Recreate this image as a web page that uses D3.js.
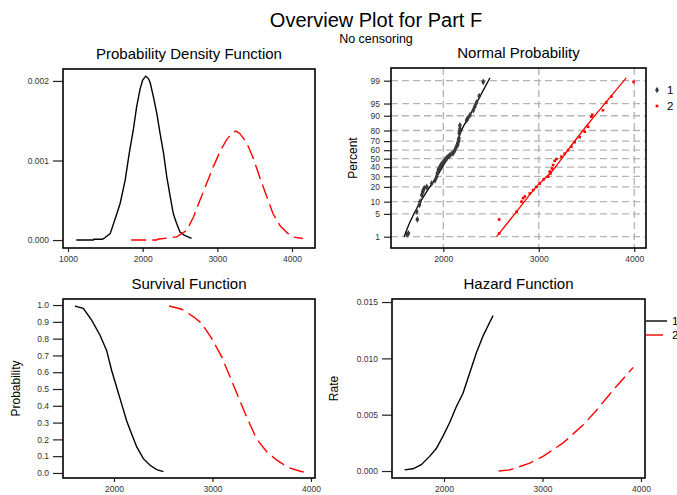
<!DOCTYPE html>
<html>
<head>
<meta charset="utf-8">
<script src="https://cdn.jsdelivr.net/npm/d3@7"></script>
<style>
body{margin:0;background:#fff}
text{font-family:"Liberation Sans",Arial,sans-serif}
</style>
</head>
<body>
<div id="chart"></div>
<script>
const width = 677
const height = 495

// probability density
const pdfX1 = [1110,1340,1345,1460,1480,1565,1654,1698,1765,1820,1877,1920,1966,2000,2041,2077,2100,2144,2190,2233,2280,2322,2370,2411,2450,2500,2560,2655]
const pdfY1 = [0,0,0.00001,0.00001,0.00002,0.00008,0.00033,0.00046,0.00075,0.00109,0.0014,0.00168,0.0019,0.00201,0.00206,0.00203,0.00198,0.0018,0.00159,0.00134,0.00109,0.0008,0.00054,0.00033,0.00022,0.0001,0.00006,0.00002]
const pdfX2 = [1846,2188,2200,2455,2589,2680,2767,2860,2945,3040,3123,3200,3248,3300,3390,3480,3568,3660,3746,3840,3924,4000,4146]
const pdfY2 = [0,0,0.00001,0.00004,0.00012,0.00029,0.0005,0.00072,0.00092,0.00112,0.00126,0.00135,0.00137,0.00134,0.00123,0.00103,0.00079,0.00055,0.00033,0.00018,0.0001,0.00004,0.00002]

// normal probability: points and fitted lines (percent)
const probX1 = [1620,1634,1728,1721,1749,1756,1774,1784,1790,1800,1826,1878,1913,1930,1937,1948,1955,1965,1975,1983,2000,2017,2030,2042,2060,2070,2090,2105,2122,2139,2150,2157,2160,2164,2167,2170,2174,2174,2244,2255,2279,2314,2330,2348,2376,2418]
const probP1 = [1.2,1.3,3.5,5.8,8.4,10,14,16,17.5,19,20,23,26,29.5,33,36.7,38,40.5,42,43.6,46,48.4,50,51.6,53,54.4,56,57,60,64,66,69,71,73,77.5,79,81.6,84,87.5,88.5,90.3,92.6,94,95.3,96.9,98.9]
const probX2 = [2585,2585,2767,2819,2836,2854,2906,2941,2976,3010,3052,3098,3122,3115,3139,3150,3167,3185,3237,3272,3306,3341,3376,3429,3481,3516,3551,3560,3672,3707,3760,3993]
const probP2 = [1.3,3.5,5.7,10,12,13,15,17.5,20,23,27,29.5,33,35,38.5,42.5,47.6,49.6,52.4,56,60,64,69,74,79,83,89.5,90.5,92.6,95.3,96.8,98.9]
const fitX1 = [1589,1652,1721,1826,1930,2035,2122,2192,2279,2383,2488]
const fitP1 = [1,3,6.9,16.3,29.5,48.4,62,80.4,90.3,96.8,99.2]
const fitX2 = [2558,2767,2976,3150,3306,3533,3707,3916]
const fitP2 = [1,5.7,20.2,36.8,60.3,86.3,95.5,99.2]
const pctTicks = [1,5,10,20,30,40,50,60,70,80,90,95,99]

// survival
const survX1 = [1603,1688,1773,1858,1925,1976,2027,2078,2129,2180,2231,2298,2366,2434,2502]
const survY1 = [0.994,0.98,0.91,0.82,0.73,0.61,0.51,0.41,0.31,0.23,0.155,0.085,0.046,0.02,0.008]
const survX2 = [2559,2688,2807,2892,2993,3095,3180,3264,3349,3451,3553,3654,3773,3892,3926]
const survY2 = [0.994,0.975,0.93,0.89,0.8,0.69,0.57,0.45,0.33,0.2,0.125,0.076,0.032,0.01,0.006]

// hazard
const hazX1 = [1600,1685,1769,1854,1922,1990,2058,2125,2193,2261,2329,2397,2498]
const hazY1 = [0.0001,0.0002,0.00056,0.0013,0.002,0.0031,0.0043,0.0057,0.0069,0.0087,0.0105,0.012,0.0138]
const hazX2 = [2556,2668,2871,3007,3210,3414,3549,3719,3922]
const hazY2 = [0,0.0001,0.0007,0.0013,0.0025,0.0041,0.0054,0.0072,0.0092]

const groups = ["1","2"]
const colors = ["#000","#ff0000"]
const dashes = [null,"15,6"]

// inverse normal cdf (Acklam)
function probit(p){
const a=[-39.69683028665376,220.9460984245205,-275.9285104469687,138.3577518672690,-30.66479806614716,2.506628277459239]
const b=[-54.47609879822406,161.5858368580409,-155.6989798598866,66.80131188771972,-13.28068155288572]
const c=[-0.007784894002430293,-0.3223964580411365,-2.400758277161838,-2.549732539343734,4.374664141464968,2.938163982698783]
const d=[0.007784695709041462,0.3224671290700398,2.445134137142996,3.754408661907416]
const pl=0.02425
if(p<pl){const q=Math.sqrt(-2*Math.log(p));return (((((c[0]*q+c[1])*q+c[2])*q+c[3])*q+c[4])*q+c[5])/((((d[0]*q+d[1])*q+d[2])*q+d[3])*q+1)}
if(p>1-pl){const q=Math.sqrt(-2*Math.log(1-p));return -(((((c[0]*q+c[1])*q+c[2])*q+c[3])*q+c[4])*q+c[5])/((((d[0]*q+d[1])*q+d[2])*q+d[3])*q+1)}
const q=p-0.5,r=q*q
return (((((a[0]*r+a[1])*r+a[2])*r+a[3])*r+a[4])*r+a[5])*q/(((((b[0]*r+b[1])*r+b[2])*r+b[3])*r+b[4])*r+1)
}

const svg = d3.select("#chart")
.append("svg")
.attr("width",width)
.attr("height",height)

svg.append("text")
.attr("x",376)
.attr("y",27)
.attr("text-anchor","middle")
.attr("font-size",20)
.text("Overview Plot for Part F")

svg.append("text")
.attr("x",376)
.attr("y",43)
.attr("text-anchor","middle")
.attr("font-size",12.5)
.text("No censoring")

function panel(box,title,xDomain,yScaleDomain,opts){
const x = d3.scaleLinear().domain(xDomain).range([box.x0,box.x1])
const y = d3.scaleLinear().domain(yScaleDomain).range([box.y1,box.y0])
const g = svg.append("g")

g.append("text")
.attr("x",(box.x0+box.x1)/2)
.attr("y",box.y0-10)
.attr("text-anchor","middle")
.attr("font-size",15)
.text(title)

const xa = g.append("g")
.attr("transform",`translate(0,${box.y1})`)
.call(d3.axisBottom(x).tickValues(opts.xTicks).tickSize(4).tickPadding(4).tickFormat(d3.format("d")))
const ya = g.append("g")
.attr("transform",`translate(${box.x0},0)`)
.call(d3.axisLeft(y).tickValues(opts.yTicks).tickSize(opts.yTickSize).tickPadding(4).tickFormat(opts.yFormat))
;[xa,ya].forEach(a=>{
a.select(".domain").remove()
a.selectAll("line").attr("stroke","#222").attr("stroke-width",1.2)
a.selectAll("text").attr("font-size",8.5).attr("fill","#333").attr("font-family","Liberation Sans, Arial, sans-serif")
})

if(opts.yLabel){
g.append("text")
.attr("transform",`translate(${opts.yLabelX},${(box.y0+box.y1)/2}) rotate(-90)`)
.attr("text-anchor","middle")
.attr("font-size",12)
.text(opts.yLabel)
}
return {x,y,g}
}

function frame(box){
svg.append("rect")
.attr("x",box.x0)
.attr("y",box.y0)
.attr("width",box.x1-box.x0)
.attr("height",box.y1-box.y0)
.attr("fill","none")
.attr("stroke","#000")
.attr("stroke-width",1.6)
}

function curve(p,xs,ys,i){
p.g.append("path")
.datum(xs.map((v,k)=>[v,ys[k]]))
.attr("fill","none")
.attr("stroke",colors[i])
.attr("stroke-width",1.4)
.attr("stroke-dasharray",dashes[i])
.attr("d",d3.line().x(d=>p.x(d[0])).y(d=>p.y(d[1])))
}

// Probability Density Function
const box1 = {x0:63,y0:69,x1:315,y1:248}
const p1 = panel(box1,"Probability Density Function",[933,4308],[-0.0001,0.00215],
{xTicks:[1000,2000,3000,4000],yTicks:[0,0.001,0.002],yTickSize:10,yFormat:d3.format(".3f")})
curve(p1,pdfX1,pdfY1,0)
curve(p1,pdfX2,pdfY2,1)
frame(box1)

// Normal Probability
const box2 = {x0:391,y0:68,x1:646,y1:248}
const p2 = panel(box2,"Normal Probability",[1452,4123],[-2.663,2.705],
{xTicks:[2000,3000,4000],yTicks:pctTicks.map(v=>probit(v/100)),yTickSize:7,
yFormat:(d,i)=>pctTicks[i],yLabel:"Percent",yLabelX:357})
p2.g.append("g")
.selectAll("line.h")
.data(pctTicks)
.enter()
.append("line")
.attr("x1",box2.x0)
.attr("x2",box2.x1)
.attr("y1",d=>p2.y(probit(d/100)))
.attr("y2",d=>p2.y(probit(d/100)))
.attr("stroke","#b4b4b4")
.attr("stroke-width",1.3)
.attr("stroke-dasharray","7,4")
p2.g.append("g")
.selectAll("line.v")
.data([2000,3000,4000])
.enter()
.append("line")
.attr("x1",d=>p2.x(d))
.attr("x2",d=>p2.x(d))
.attr("y1",box2.y0)
.attr("y2",box2.y1)
.attr("stroke","#b4b4b4")
.attr("stroke-width",1.3)
.attr("stroke-dasharray","7,4")

;[[fitX1,fitP1],[fitX2,fitP2]].forEach(([xs,ps],i)=>{
p2.g.append("path")
.datum(xs.map((v,k)=>[v,ps[k]]))
.attr("fill","none")
.attr("stroke",colors[i])
.attr("stroke-width",1.3)
.attr("d",d3.line().curve(d3.curveMonotoneX).x(d=>p2.x(d[0])).y(d=>p2.y(probit(d[1]/100))))
})
const symbols = [d3.symbol().type(d3.symbolDiamond).size(13),d3.symbol().type(d3.symbolSquare).size(7)]
const pointFill = ["#3a3a3a","#ff0000"]
;[[probX1,probP1],[probX2,probP2]].forEach(([xs,ps],i)=>{
p2.g.append("g")
.selectAll("path")
.data(xs.map((v,k)=>[v,ps[k]]))
.enter()
.append("path")
.attr("d",symbols[i])
.attr("fill",pointFill[i])
.attr("transform",d=>`translate(${p2.x(d[0])},${p2.y(probit(d[1]/100))})`)
})
frame(box2)

const leg1 = svg.append("g")
groups.forEach((gname,i)=>{
leg1.append("path")
.attr("d",symbols[i])
.attr("fill",pointFill[i])
.attr("transform",`translate(657,${90+i*16})`)
leg1.append("text")
.attr("x",667)
.attr("y",94+i*16)
.attr("font-size",11.5)
.text(gname)
})

// Survival Function
const box3 = {x0:63,y0:299,x1:315,y1:478}
const p3 = panel(box3,"Survival Function",[1482,4041],[-0.03,1.036],
{xTicks:[2000,3000,4000],yTicks:d3.range(0,11).map(v=>v/10),yTickSize:10,yFormat:d3.format(".1f"),yLabel:"Probability",yLabelX:20})
curve(p3,survX1,survY1,0)
curve(p3,survX2,survY2,1)
frame(box3)

// Hazard Function
const box4 = {x0:392,y0:299,x1:645,y1:478}
const p4 = panel(box4,"Hazard Function",[1472,4041],[-0.00062,0.01527],
{xTicks:[2000,3000,4000],yTicks:[0,0.005,0.01,0.015],yTickSize:10,yFormat:d3.format(".3f"),yLabel:"Rate",yLabelX:338})
curve(p4,hazX1,hazY1,0)
curve(p4,hazX2,hazY2,1)
frame(box4)

const leg2 = svg.append("g")
groups.forEach((gname,i)=>{
leg2.append("line")
.attr("x1",646)
.attr("x2",i==0?667:663)
.attr("y1",321+i*14)
.attr("y2",321+i*14)
.attr("stroke",colors[i])
.attr("stroke-width",1.4)
leg2.append("text")
.attr("x",672)
.attr("y",325+i*14)
.attr("font-size",11.5)
.text(gname)
})
</script>
</body>
</html>
